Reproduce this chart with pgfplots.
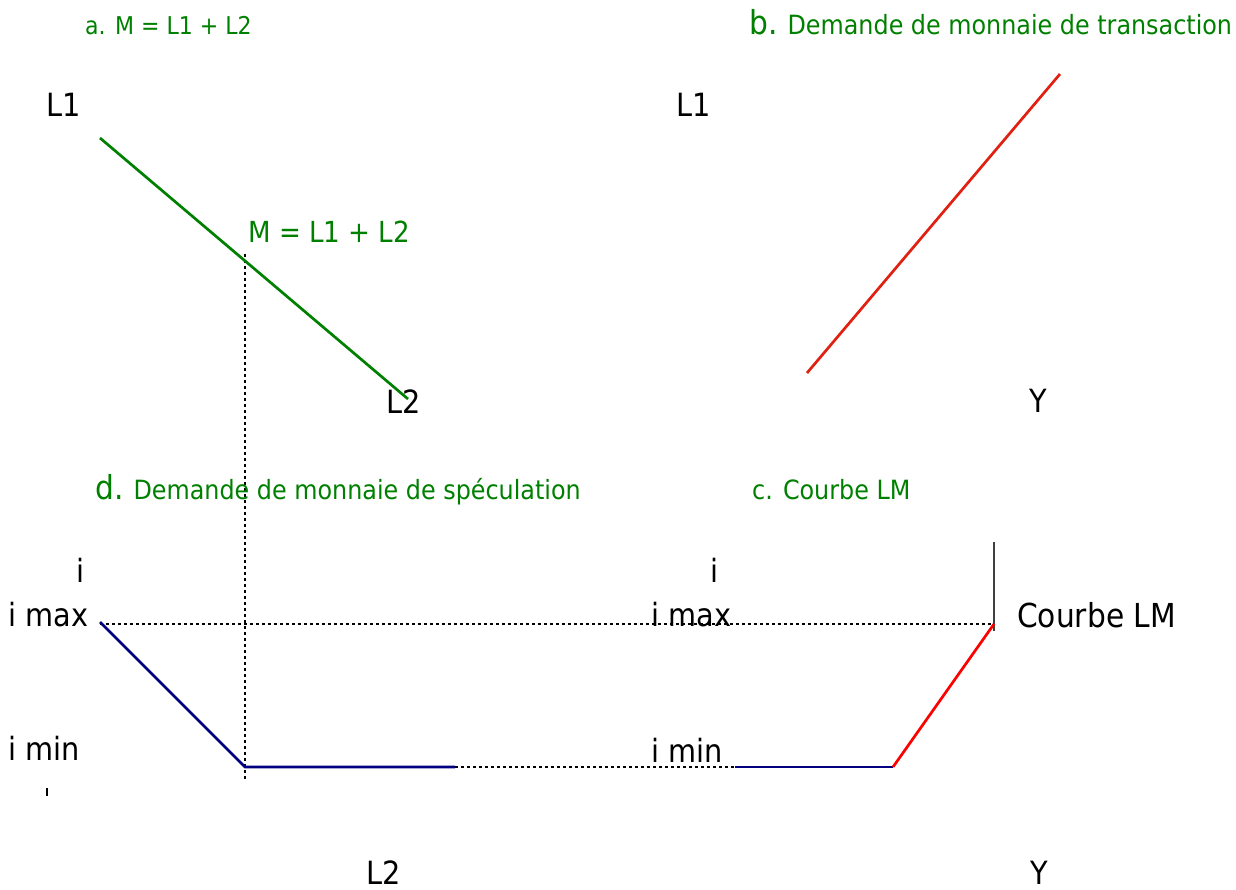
\documentclass[border=0pt]{standalone}
\usepackage{fontspec}
\setmainfont{DejaVu Sans}[FakeStretch=0.9]
\usepackage{pgfplots}
\pgfplotsset{compat=1.18}
\definecolor{grn}{RGB}{0,128,0}
\definecolor{navyb}{RGB}{0,0,128}
\definecolor{redb}{RGB}{224,32,16}
\definecolor{redc}{RGB}{255,0,0}
\definecolor{grayv}{RGB}{64,64,64}
\tikzset{
  blk/.style={anchor=base west, inner sep=0pt, text=black, font=\fontsize{32pt}{38pt}\selectfont},
  gtt/.style={anchor=base west, inner sep=0pt, text=grn, font=\fontsize{26.5pt}{31pt}\selectfont},
  dotl/.style={black, line width=2.7pt, dash pattern=on 3pt off 3pt}
}
\newcommand{\panelletter}[1]{{\fontsize{33pt}{38pt}\selectfont #1}}
\begin{document}
\begin{tikzpicture}
\begin{axis}[scale only axis, width=1236pt, height=890pt,
  xmin=0, xmax=1236, ymin=0, ymax=890, y dir=reverse,
  hide axis, clip=false]
% dotted guide lines
\addplot[dotl] coordinates {(245,254) (245,781)};
\addplot[dotl] coordinates {(100,624) (992,624)};
\addplot[dotl] coordinates {(455,767) (735,767)};
% panel a
\addplot[grn, line width=2.7pt] coordinates {(100,138) (408,399)};
% panel b
\addplot[redb, line width=2.7pt] coordinates {(807,373) (1060,74)};
% panel d
\addplot[navyb, line width=2.7pt] coordinates {(100,622) (245,767) (455,767)};
\addplot[black, line width=2.2pt] coordinates {(47,788) (47,796)};
% panel c
\addplot[grayv, line width=2.7pt] coordinates {(994,542) (994,631)};
\addplot[navyb, line width=2.7pt] coordinates {(735,767) (893,767)};
\addplot[redc, line width=2.7pt] coordinates {(893,767) (994,624)};
% texts
\node[gtt, font=\fontsize{24.5pt}{30pt}\selectfont] at (axis cs:85,35) {a. M = L1 + L2};
\node[gtt] at (axis cs:749,35) {\panelletter{b.} Demande de monnaie de transaction};
\node[blk] at (axis cs:46,117) {L1};
\node[blk] at (axis cs:676,117) {L1};
\node[gtt, font=\fontsize{29pt}{34pt}\selectfont] at (axis cs:248,243) {M = L1 + L2};
\node[blk] at (axis cs:386,413) {L2};
\node[blk] at (axis cs:1029,412) {Y};
\node[gtt] at (axis cs:95,499) {\panelletter{d.} Demande de monnaie de spéculation};
\node[gtt] at (axis cs:752,499) {c. Courbe LM};
\node[blk] at (axis cs:76,582) {i};
\node[blk] at (axis cs:8,626) {i max};
\node[blk] at (axis cs:8,760) {i min};
\node[blk] at (axis cs:710,582) {i};
\node[blk] at (axis cs:651,626) {i max};
\node[blk] at (axis cs:651,762) {i min};
\node[blk, font=\fontsize{33pt}{38pt}\selectfont] at (axis cs:1017,627) {Courbe LM};
\node[blk] at (axis cs:366,884) {L2};
\node[blk] at (axis cs:1030,884) {Y};
\end{axis}
\pgfresetboundingbox
\path (current axis.south west) rectangle (current axis.north east);
\end{tikzpicture}
\end{document}
